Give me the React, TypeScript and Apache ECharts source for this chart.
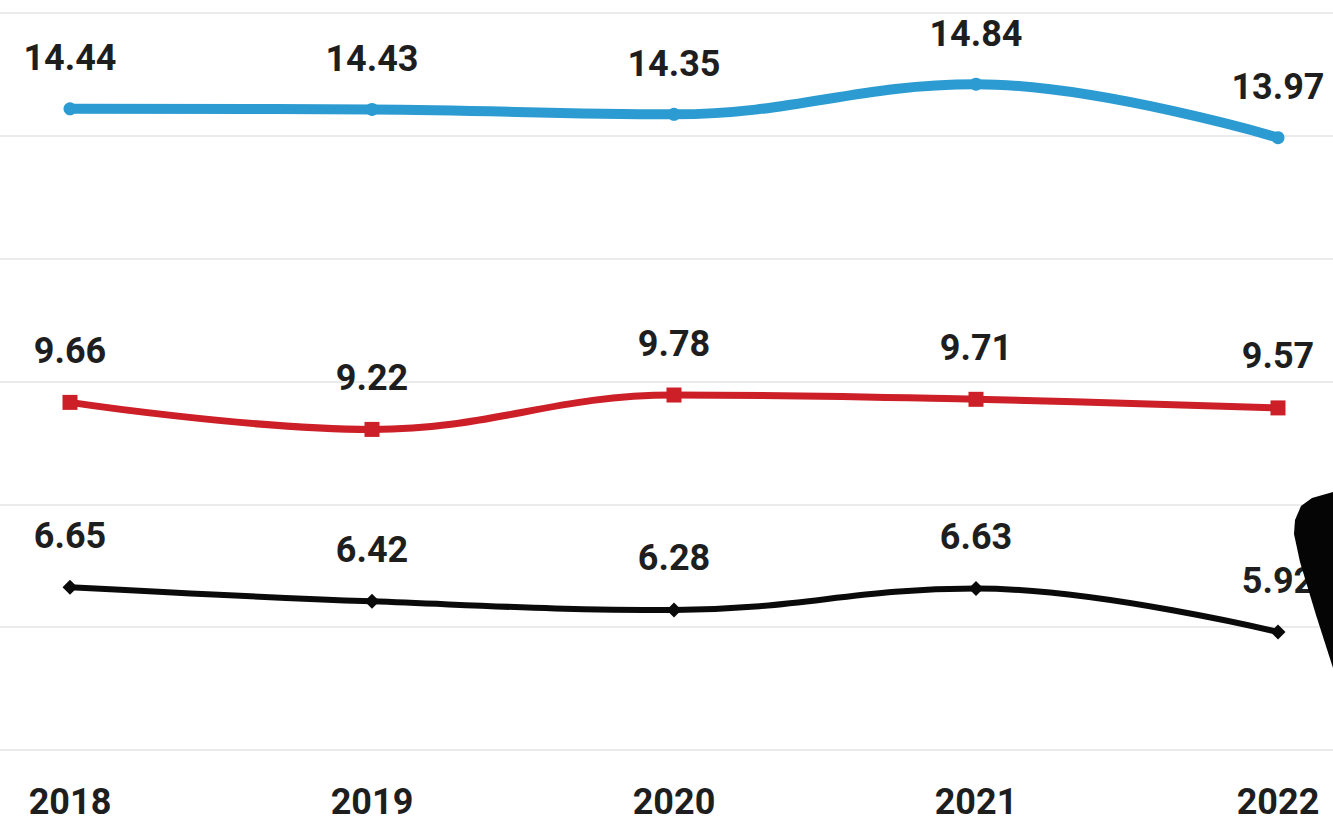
import React, { useEffect, useRef } from "react";
import * as echarts from "echarts";

const years = ["2018", "2019", "2020", "2021", "2022"];
const blueValues = [14.44, 14.43, 14.35, 14.84, 13.97];
const redValues = [9.66, 9.22, 9.78, 9.71, 9.57];
const blackValues = [6.65, 6.42, 6.28, 6.63, 5.92];

const FONT = "Roboto, 'Open Sans', sans-serif";

export default function App() {
  const ref = useRef<HTMLDivElement>(null);
  useEffect(() => {
    document.body.style.margin = "0";
    const chart = echarts.init(ref.current!, null, { renderer: "svg" });
    const label = {
      show: true,
      position: "top" as const,
      distance: 26,
      fontFamily: FONT,
      fontWeight: "bold" as const,
      fontSize: 36,
      color: "#1e1e1e",
    };
    chart.setOption({
      animation: false,
      backgroundColor: "#ffffff",
      grid: [
        { left: 70, right: 55, top: 13, bottom: 74 },
        { left: 0, right: 0, top: 13, bottom: 74 },
      ],
      xAxis: [
        {
          type: "category",
          data: years,
          boundaryGap: false,
          gridIndex: 0,
          axisLine: { show: false },
          axisTick: { show: false },
          axisLabel: {
            margin: 34,
            fontFamily: FONT,
            fontWeight: "bold",
            fontSize: 36,
            color: "#1e1e1e",
          },
        },
        {
          type: "category",
          data: years,
          gridIndex: 1,
          show: false,
        },
      ],
      yAxis: [
        {
          type: "value",
          min: 4,
          max: 16,
          interval: 2,
          gridIndex: 0,
          axisLabel: { show: false },
          axisLine: { show: false },
          axisTick: { show: false },
          splitLine: { show: false },
        },
        {
          type: "value",
          min: 4,
          max: 16,
          interval: 2,
          gridIndex: 1,
          axisLabel: { show: false },
          axisLine: { show: false },
          axisTick: { show: false },
          splitLine: { lineStyle: { color: "#ebebeb", width: 2 } },
        },
      ],
      series: [
        {
          type: "line",
          data: blueValues,
          smooth: 0.4,
          symbol: "circle",
          symbolSize: 13,
          itemStyle: { color: "#2b9bd1" },
          lineStyle: { color: "#2b9bd1", width: 10 },
          label,
        },
        {
          type: "line",
          data: redValues,
          smooth: 0.4,
          symbol: "rect",
          symbolSize: 15,
          itemStyle: { color: "#cc1f27" },
          lineStyle: { color: "#cc1f27", width: 7 },
          label,
        },
        {
          type: "line",
          data: blackValues,
          smooth: 0.4,
          symbol: "diamond",
          symbolSize: 15,
          itemStyle: { color: "#0a0a0a" },
          lineStyle: { color: "#0a0a0a", width: 6 },
          label,
        },
      ],
      graphic: [
        {
          type: "polygon",
          z: 100,
          shape: {
            points: [
              [1333, 492],
              [1312, 498],
              [1301, 506],
              [1295, 520],
              [1294, 534],
              [1300, 562],
              [1316, 615],
              [1333, 668],
            ],
          },
          style: { fill: "#050505" },
        },
      ],
    });
    return () => chart.dispose();
  }, []);
  return <div ref={ref} style={{ width: 1333, height: 824 }} />;
}
